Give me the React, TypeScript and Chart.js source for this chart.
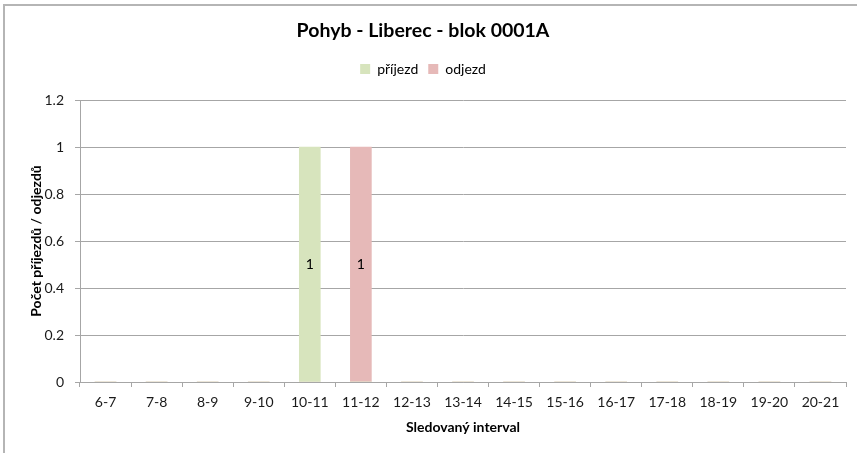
import React, { useEffect, useRef } from "react";
import { Chart, registerables } from "chart.js";

Chart.register(...registerables);

const categories = ["6-7", "7-8", "8-9", "9-10", "10-11", "11-12", "12-13", "13-14", "14-15", "15-16", "16-17", "17-18", "18-19", "19-20", "20-21"];
const prijezd = [0, 0, 0, 0, 1, 0, 0, 0, 0, 0, 0, 0, 0, 0, 0];
const odjezd = [0, 0, 0, 0, 0, 1, 0, 0, 0, 0, 0, 0, 0, 0, 0];
const yTicks = [0, 0.2, 0.4, 0.6, 0.8, 1, 1.2];

const FONT = "Lato, 'Liberation Sans', sans-serif";
const GRID = "#a6a6a6";

const borderPlugin = {
  id: "outerBorder",
  beforeDraw(chart: any) {
    const ctx = chart.ctx;
    ctx.save();
    ctx.fillStyle = "#ffffff";
    ctx.fillRect(0, 0, chart.width, chart.height);
    ctx.strokeStyle = "#b5b5b5";
    ctx.lineWidth = 2;
    ctx.beginPath();
    ctx.moveTo(4, chart.height);
    ctx.lineTo(4, 5);
    ctx.lineTo(chart.width, 5);
    ctx.stroke();
    ctx.restore();
  },
};

// extra space below the legend
const legendGapPlugin = {
  id: "legendGap",
  beforeLayout(chart: any) {
    const lg = chart.legend;
    if (lg && !lg._gapPatched) {
      const orig = lg.fit.bind(lg);
      lg.fit = function () {
        orig();
        this.height += 14;
      };
      lg._gapPatched = true;
    }
  },
};

const labelPlugin = {
  id: "barLabels",
  afterDatasetsDraw(chart: any) {
    const ctx = chart.ctx;
    ctx.save();
    ctx.font = `14px ${FONT}`;
    ctx.fillStyle = "#000";
    ctx.textAlign = "center";
    ctx.textBaseline = "middle";
    chart.data.datasets.forEach((ds: any, di: number) => {
      const meta = chart.getDatasetMeta(di);
      meta.data.forEach((bar: any, i: number) => {
        const v = ds.data[i];
        if (!v) return;
        ctx.fillText(String(v), bar.x, (bar.y + bar.base) / 2);
      });
    });
    ctx.restore();
  },
};

export default function App() {
  const ref = useRef<HTMLCanvasElement>(null);
  useEffect(() => {
    if (!ref.current) return;
    const chart = new Chart(ref.current, {
      type: "bar",
      data: {
        labels: categories,
        datasets: [
          { label: "příjezd", data: prijezd, backgroundColor: "#d7e4bd", barThickness: 21, grouped: false } as any,
          { label: "odjezd", data: odjezd, backgroundColor: "#e6b9b8", barThickness: 21, grouped: false } as any,
        ],
      },
      options: {
        responsive: false,
        animation: false,
        layout: { padding: { left: 0, right: 11, top: 0, bottom: 0 } },
        plugins: {
          tooltip: { enabled: false },
          title: {
            display: true,
            text: "Pohyb - Liberec - blok 0001A",
            color: "#000",
            font: { family: FONT, size: 19.5, weight: "bold" },
            padding: { top: 19, bottom: 9.6 },
          },
          legend: {
            display: true,
            position: "top",
            labels: {
              color: "#000",
              font: { family: FONT, size: 14 },
              boxWidth: 10,
              boxHeight: 10,
              padding: 10,
            },
          },
        },
        scales: {
          x: {
            afterFit: (s: any) => { s.height = 71; },
            grid: { display: true, drawOnChartArea: false, offset: true, tickLength: 5, color: GRID },
            border: { color: GRID },
            ticks: { color: "#1a1a1a", font: { family: FONT, size: 14 }, padding: 7, maxRotation: 0, autoSkip: false },
            title: {
              display: true,
              text: "Sledovaný interval",
              color: "#000",
              font: { family: FONT, size: 14, weight: "bold" },
              padding: { top: 0, bottom: 17.6 },
            },
          },
          y: {
            min: 0,
            max: 1.2,
            afterFit: (s: any) => { s.width = 80; },
            afterBuildTicks: (s: any) => { s.ticks = yTicks.map((v) => ({ value: v })); },
            grid: { color: GRID, tickLength: 5 },
            border: { color: GRID },
            ticks: {
              color: "#1a1a1a",
              font: { family: FONT, size: 14 },
              padding: 11,
              callback: (v: any) => String(Math.round(Number(v) * 10) / 10),
            },
            title: {
              display: true,
              text: "Počet příjezdů / odjezdů",
              color: "#000",
              font: { family: FONT, size: 14, weight: "bold" },
              padding: { top: 27.6, bottom: 0 },
            },
          },
        },
      },
      plugins: [borderPlugin, legendGapPlugin, labelPlugin],
    } as any);
    return () => chart.destroy();
  }, []);
  return (
    <div style={{ position: "absolute", left: 0, top: 0, width: 857, height: 453 }}>
      <canvas ref={ref} width={857} height={453} />
    </div>
  );
}
